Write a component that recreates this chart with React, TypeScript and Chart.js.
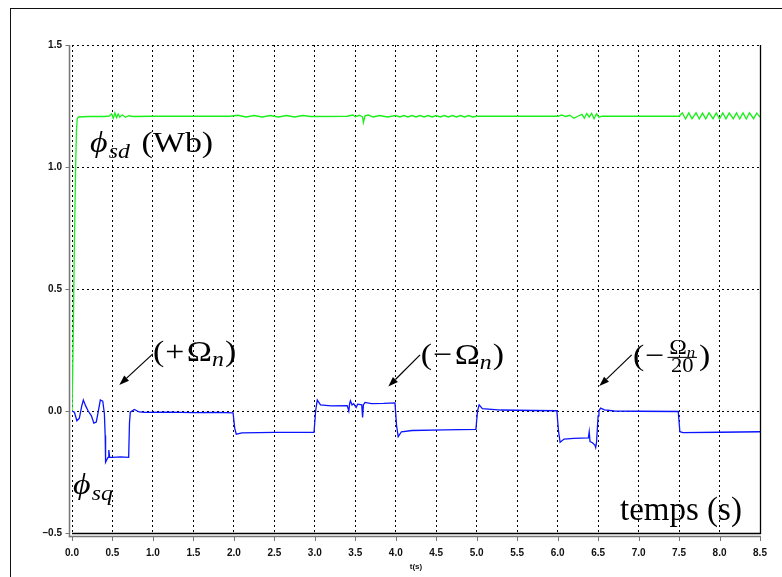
import React, { useEffect, useRef } from 'react';
import { Chart, registerables } from 'chart.js';

Chart.register(...registerables);

// ---- data ----
const sdTime = [0, 0.015, 0.03, 0.045, 0.055, 0.065, 0.08, 0.2, 0.4, 0.46, 0.49, 0.51, 0.53, 0.55, 0.57, 0.59, 0.62, 0.66, 0.7, 0.75, 1.0, 1.5, 1.95, 2.05, 2.15, 2.25, 2.35, 2.45, 2.55, 2.65, 2.75, 2.85, 2.95, 3.4, 3.47, 3.5, 3.55, 3.59, 3.6, 3.62, 3.66, 3.72, 3.8, 3.9, 4.0, 4.05, 4.1, 4.15, 4.2, 4.25, 4.3, 4.35, 4.4, 4.45, 4.5, 4.55, 4.6, 4.65, 4.7, 4.75, 4.8, 4.85, 4.9, 4.95, 5.0, 5.5, 6.0, 6.05, 6.1, 6.15, 6.2, 6.25, 6.3, 6.33, 6.36, 6.39, 6.42, 6.45, 6.48, 6.51, 6.55, 7.0, 7.5, 7.54, 7.58, 7.62, 7.66, 7.71, 7.75, 7.79, 7.83, 7.87, 7.92, 7.96, 8.0, 8.04, 8.08, 8.12, 8.17, 8.21, 8.25, 8.29, 8.33, 8.37, 8.42, 8.46, 8.5];
const sdFlux = [0, 0.3, 0.7, 1.0, 1.15, 1.2, 1.205, 1.207, 1.207, 1.209, 1.218, 1.2, 1.222, 1.202, 1.217, 1.204, 1.214, 1.204, 1.21, 1.207, 1.208, 1.208, 1.208, 1.212, 1.205, 1.211, 1.205, 1.211, 1.205, 1.211, 1.205, 1.211, 1.207, 1.208, 1.213, 1.206, 1.212, 1.205, 1.182, 1.21, 1.213, 1.205, 1.211, 1.205, 1.211, 1.205, 1.211, 1.205, 1.211, 1.205, 1.211, 1.205, 1.211, 1.205, 1.211, 1.205, 1.211, 1.205, 1.211, 1.205, 1.211, 1.205, 1.211, 1.205, 1.208, 1.208, 1.208, 1.213, 1.207, 1.212, 1.2, 1.208, 1.216, 1.2, 1.219, 1.205, 1.22, 1.198, 1.218, 1.204, 1.208, 1.208, 1.208, 1.222, 1.197, 1.222, 1.198, 1.222, 1.197, 1.221, 1.197, 1.222, 1.198, 1.222, 1.197, 1.222, 1.197, 1.221, 1.198, 1.222, 1.197, 1.222, 1.197, 1.222, 1.198, 1.221, 1.205];

const sqTime = [0, 0.03, 0.06, 0.09, 0.12, 0.14, 0.17, 0.2, 0.24, 0.27, 0.3, 0.32, 0.35, 0.38, 0.4, 0.41, 0.415, 0.43, 0.445, 0.455, 0.465, 0.5, 0.6, 0.7, 0.71, 0.72, 0.77, 0.83, 0.9, 1.2, 1.5, 1.8, 1.99, 2.01, 2.03, 2.1, 2.5, 2.99, 3.01, 3.03, 3.07, 3.2, 3.4, 3.42, 3.43, 3.44, 3.46, 3.48, 3.51, 3.53, 3.58, 3.59, 3.6, 3.62, 3.7, 3.85, 3.99, 4.01, 4.03, 4.07, 4.2, 4.6, 4.99, 5.01, 5.03, 5.07, 5.3, 5.7, 5.99, 6.01, 6.03, 6.08, 6.2, 6.38, 6.39, 6.4, 6.43, 6.46, 6.47, 6.48, 6.5, 6.51, 6.53, 6.58, 6.7, 7.0, 7.49, 7.51, 7.55, 8.0, 8.5];
const sqFlux = [0, -0.005, -0.04, -0.03, 0.02, 0.045, 0.02, 0.0, -0.02, -0.05, -0.045, -0.01, 0.045, 0.04, -0.01, -0.1, -0.21, -0.2, -0.19, -0.16, -0.19, -0.19, -0.188, -0.19, -0.05, -0.005, 0.006, -0.004, -0.006, -0.005, -0.007, -0.006, -0.008, -0.07, -0.095, -0.09, -0.088, -0.088, 0.0, 0.045, 0.025, 0.021, 0.022, 0.0, 0.03, 0.042, 0.025, 0.03, 0.015, 0.028, 0.025, -0.026, 0.025, 0.035, 0.03, 0.031, 0.033, -0.06, -0.105, -0.085, -0.08, -0.077, -0.075, 0.0, 0.025, 0.01, 0.004, 0.002, 0.001, -0.08, -0.128, -0.115, -0.112, -0.11, -0.085, -0.125, -0.13, -0.14, -0.15, -0.13, -0.02, 0.0, 0.012, 0.005, 0.0, -0.001, -0.002, -0.085, -0.089, -0.087, -0.085];

const xTickValues = [0, 0.5, 1, 1.5, 2, 2.5, 3, 3.5, 4, 4.5, 5, 5.5, 6, 6.5, 7, 7.5, 8, 8.5];
const xTickLabels = ['0.0', '0.5', '1.0', '1.5', '2.0', '2.5', '3.0', '3.5', '4.0', '4.5', '5.0', '5.5', '6.0', '6.5', '7.0', '7.5', '8.0', '8.5'];
const yTickValues = [-0.5, 0, 0.5, 1, 1.5];
const yTickLabels = ['\u20130.5', '0.0', '0.5', '1.0', '1.5'];

// annotation anchors in data units (t, value)
const arrowFromT = [0.999, 4.3, 6.915];
const arrowFromV = [0.234, 0.23, 0.23];
const arrowToT = [0.584, 3.908, 6.515];
const arrowToV = [0.107, 0.1, 0.102];

const SERIF = "'Liberation Serif', 'DejaVu Serif', serif";
const SANS = "'Liberation Sans', Arial, sans-serif";
const STRETCH = 1.13;

type Part = { t: string; size: number; italic?: boolean; dy?: number; gap?: number };

function drawParts(ctx: CanvasRenderingContext2D, x: number, y: number, parts: Part[], sx = STRETCH) {
  ctx.save();
  ctx.translate(x, y);
  ctx.scale(sx, 1);
  let cx = 0;
  for (const p of parts) {
    ctx.font = `${p.italic ? 'italic ' : ''}${p.size}px ${SERIF}`;
    cx += p.gap || 0;
    ctx.fillText(p.t, cx, p.dy || 0);
    cx += ctx.measureText(p.t).width;
  }
  ctx.restore();
  return x + cx * sx;
}

const decor = {
  id: 'decor',
  afterDraw(chart: any) {
    const { ctx, chartArea } = chart;
    const { left, right, top, bottom } = chartArea;
    const xs = chart.scales.x;
    const ys = chart.scales.y;
    const line = (x1: number, y1: number, x2: number, y2: number) => {
      ctx.beginPath();
      ctx.moveTo(x1, y1);
      ctx.lineTo(x2, y2);
      ctx.stroke();
    };
    ctx.save();
    // frame
    ctx.strokeStyle = '#000';
    ctx.lineWidth = 1.3;
    line(right + 0.5, top, right + 0.5, bottom + 1);
    line(left, bottom + 0.5, right + 1, bottom + 0.5);
    // offset axis lines
    ctx.strokeStyle = '#777';
    ctx.lineWidth = 1.5;
    line(left - 2.5, top, left - 2.5, bottom + 4.2);
    line(left - 3.2, bottom + 3.5, right + 1, bottom + 3.5);
    ctx.lineWidth = 1;
    for (const v of xTickValues) {
      const px = Math.round(xs.getPixelForValue(v)) + 0.5;
      line(px, bottom + 3.5, px, bottom + 8);
    }
    for (const v of yTickValues) {
      const py = Math.round(ys.getPixelForValue(v)) + 0.5;
      line(left - 2.5, py, left - 6.5, py);
    }

    // arrows
    ctx.strokeStyle = '#000';
    ctx.fillStyle = '#000';
    ctx.lineWidth = 1.2;
    for (let i = 0; i < arrowFromT.length; i++) {
      const x1 = xs.getPixelForValue(arrowFromT[i]);
      const y1 = ys.getPixelForValue(arrowFromV[i]);
      const x2 = xs.getPixelForValue(arrowToT[i]);
      const y2 = ys.getPixelForValue(arrowToV[i]);
      const a = Math.atan2(y2 - y1, x2 - x1);
      const hl = 10, hw = 3.5;
      const bx = x2 - hl * Math.cos(a), by = y2 - hl * Math.sin(a);
      line(x1, y1, bx, by);
      ctx.beginPath();
      ctx.moveTo(x2, y2);
      ctx.lineTo(bx + hw * Math.sin(a), by - hw * Math.cos(a));
      ctx.lineTo(bx - hw * Math.sin(a), by + hw * Math.cos(a));
      ctx.closePath();
      ctx.fill();
    }

    // labels
    ctx.textBaseline = 'alphabetic';
    ctx.textAlign = 'left';
    ctx.fillStyle = '#000';
    const X = (t: number) => xs.getPixelForValue(t);
    const Y = (v: number) => ys.getPixelForValue(v);

    drawParts(ctx, X(0.222), Y(1.063), [
      { t: '\u03D5', size: 30, italic: true },
      { t: 'sd', size: 21, italic: true, dy: 6, gap: 1 },
      { t: ' (Wb)', size: 30, gap: 3 },
    ]);
    drawParts(ctx, X(0.012), Y(-0.342), [
      { t: '\u03D5', size: 30, italic: true },
      { t: 'sq', size: 21, italic: true, dy: 6, gap: 1 },
    ]);
    drawParts(ctx, X(1.0), Y(0.205), [
      { t: '(', size: 30 },
      { t: '+', size: 30, gap: 1 },
      { t: '\u03A9', size: 30, gap: 2 },
      { t: 'n', size: 21, italic: true, dy: 5 },
      { t: ')', size: 30, gap: 1 },
    ]);
    drawParts(ctx, X(4.31), Y(0.193), [
      { t: '(', size: 30 },
      { t: '\u2212', size: 30, gap: 1 },
      { t: '\u03A9', size: 30, gap: 2 },
      { t: 'n', size: 21, italic: true, dy: 5 },
      { t: ')', size: 30, gap: 1 },
    ]);
    // fraction label
    {
      const bx = X(6.93);
      const by = Y(0.189);
      let cx = drawParts(ctx, bx, by, [
        { t: '(', size: 30 },
        { t: '\u2212', size: 30, gap: 1 },
      ]);
      cx += 3;
      ctx.font = `21px ${SERIF}`;
      const wO = ctx.measureText('\u03A9').width;
      ctx.font = `italic 15px ${SERIF}`;
      const wn = ctx.measureText('n').width;
      ctx.font = `20px ${SERIF}`;
      const w20 = ctx.measureText('20').width;
      const fw = (Math.max(wO + wn, w20) + 3) * STRETCH;
      drawParts(ctx, cx + (fw - (wO + wn) * STRETCH) / 2, by - 11, [
        { t: '\u03A9', size: 21 },
        { t: 'n', size: 15, italic: true, dy: 3 },
      ]);
      ctx.fillRect(cx, by - 8, fw, 1);
      drawParts(ctx, cx + (fw - w20 * STRETCH) / 2, by + 7, [{ t: '20', size: 20 }]);
      cx += fw + 2;
      drawParts(ctx, cx, by, [{ t: ')', size: 30 }]);
    }
    drawParts(ctx, X(6.77), Y(-0.447), [{ t: 'temps (s)', size: 33 }], 1);
    ctx.restore();
  },
};

export default function App() {
  const ref = useRef<HTMLCanvasElement>(null);
  useEffect(() => {
    if (!ref.current) return;
    const chart = new Chart(ref.current, {
      type: 'line',
      data: {
        datasets: [
          {
            label: 'phi_sd',
            data: sdTime.map((t, i) => ({ x: t, y: sdFlux[i] })),
            borderColor: '#19f019',
            borderWidth: 1.3,
            pointRadius: 0,
            tension: 0,
          },
          {
            label: 'phi_sq',
            data: sqTime.map((t, i) => ({ x: t, y: sqFlux[i] })),
            borderColor: '#0a14ff',
            borderWidth: 1.3,
            pointRadius: 0,
            tension: 0,
          },
        ],
      },
      plugins: [decor],
      options: {
        animation: false,
        responsive: false,
        devicePixelRatio: 1,
        layout: { padding: { top: 45, right: 22, left: 0, bottom: 0 } },
        plugins: { legend: { display: false }, tooltip: { enabled: false } },
        scales: {
          x: {
            type: 'linear',
            min: 0,
            max: 8.5,
            afterFit: (s: any) => { s.height = 44; },
            afterBuildTicks: (s: any) => { s.ticks = xTickValues.map((v) => ({ value: v })); },
            ticks: {
              padding: 14,
              color: '#111',
              font: { family: SANS, size: 10, weight: 'bold' },
              maxRotation: 0,
              autoSkip: false,
              callback: (v: any) => { const i = xTickValues.indexOf(Number(v)); return i >= 0 ? xTickLabels[i] : ''; },
            },
            grid: { color: '#000', lineWidth: 1, drawTicks: false },
            border: { display: false, dash: [2, 3] },
            title: {
              display: true,
              text: 't(s)',
              color: '#111',
              font: { family: SANS, size: 8, weight: 'bold' },
              padding: { top: 0, bottom: 5 },
            },
          },
          y: {
            type: 'linear',
            min: -0.5,
            max: 1.5,
            afterFit: (s: any) => { s.width = 72; },
            afterBuildTicks: (s: any) => { s.ticks = yTickValues.map((v) => ({ value: v })); },
            ticks: {
              padding: 10,
              color: '#111',
              font: { family: SANS, size: 10, weight: 'bold' },
              autoSkip: false,
              callback: (v: any) => { const i = yTickValues.indexOf(Number(v)); return i >= 0 ? yTickLabels[i] : ''; },
            },
            grid: { color: '#000', lineWidth: 1, drawTicks: false },
            border: { display: false, dash: [2, 3] },
          },
        },
      },
    } as any);
    return () => chart.destroy();
  }, []);

  return (
    <div style={{ position: 'fixed', left: 0, top: 0, width: 782, height: 577, background: '#fff' }}>
      <canvas ref={ref} width={782} height={577} style={{ position: 'absolute', left: 0, top: 0 }} />
      <div style={{ position: 'absolute', left: 10, top: 8, right: 0, bottom: 0, borderTop: '1.5px solid #111', borderLeft: '1.5px solid #111', pointerEvents: 'none' }} />
    </div>
  );
}
